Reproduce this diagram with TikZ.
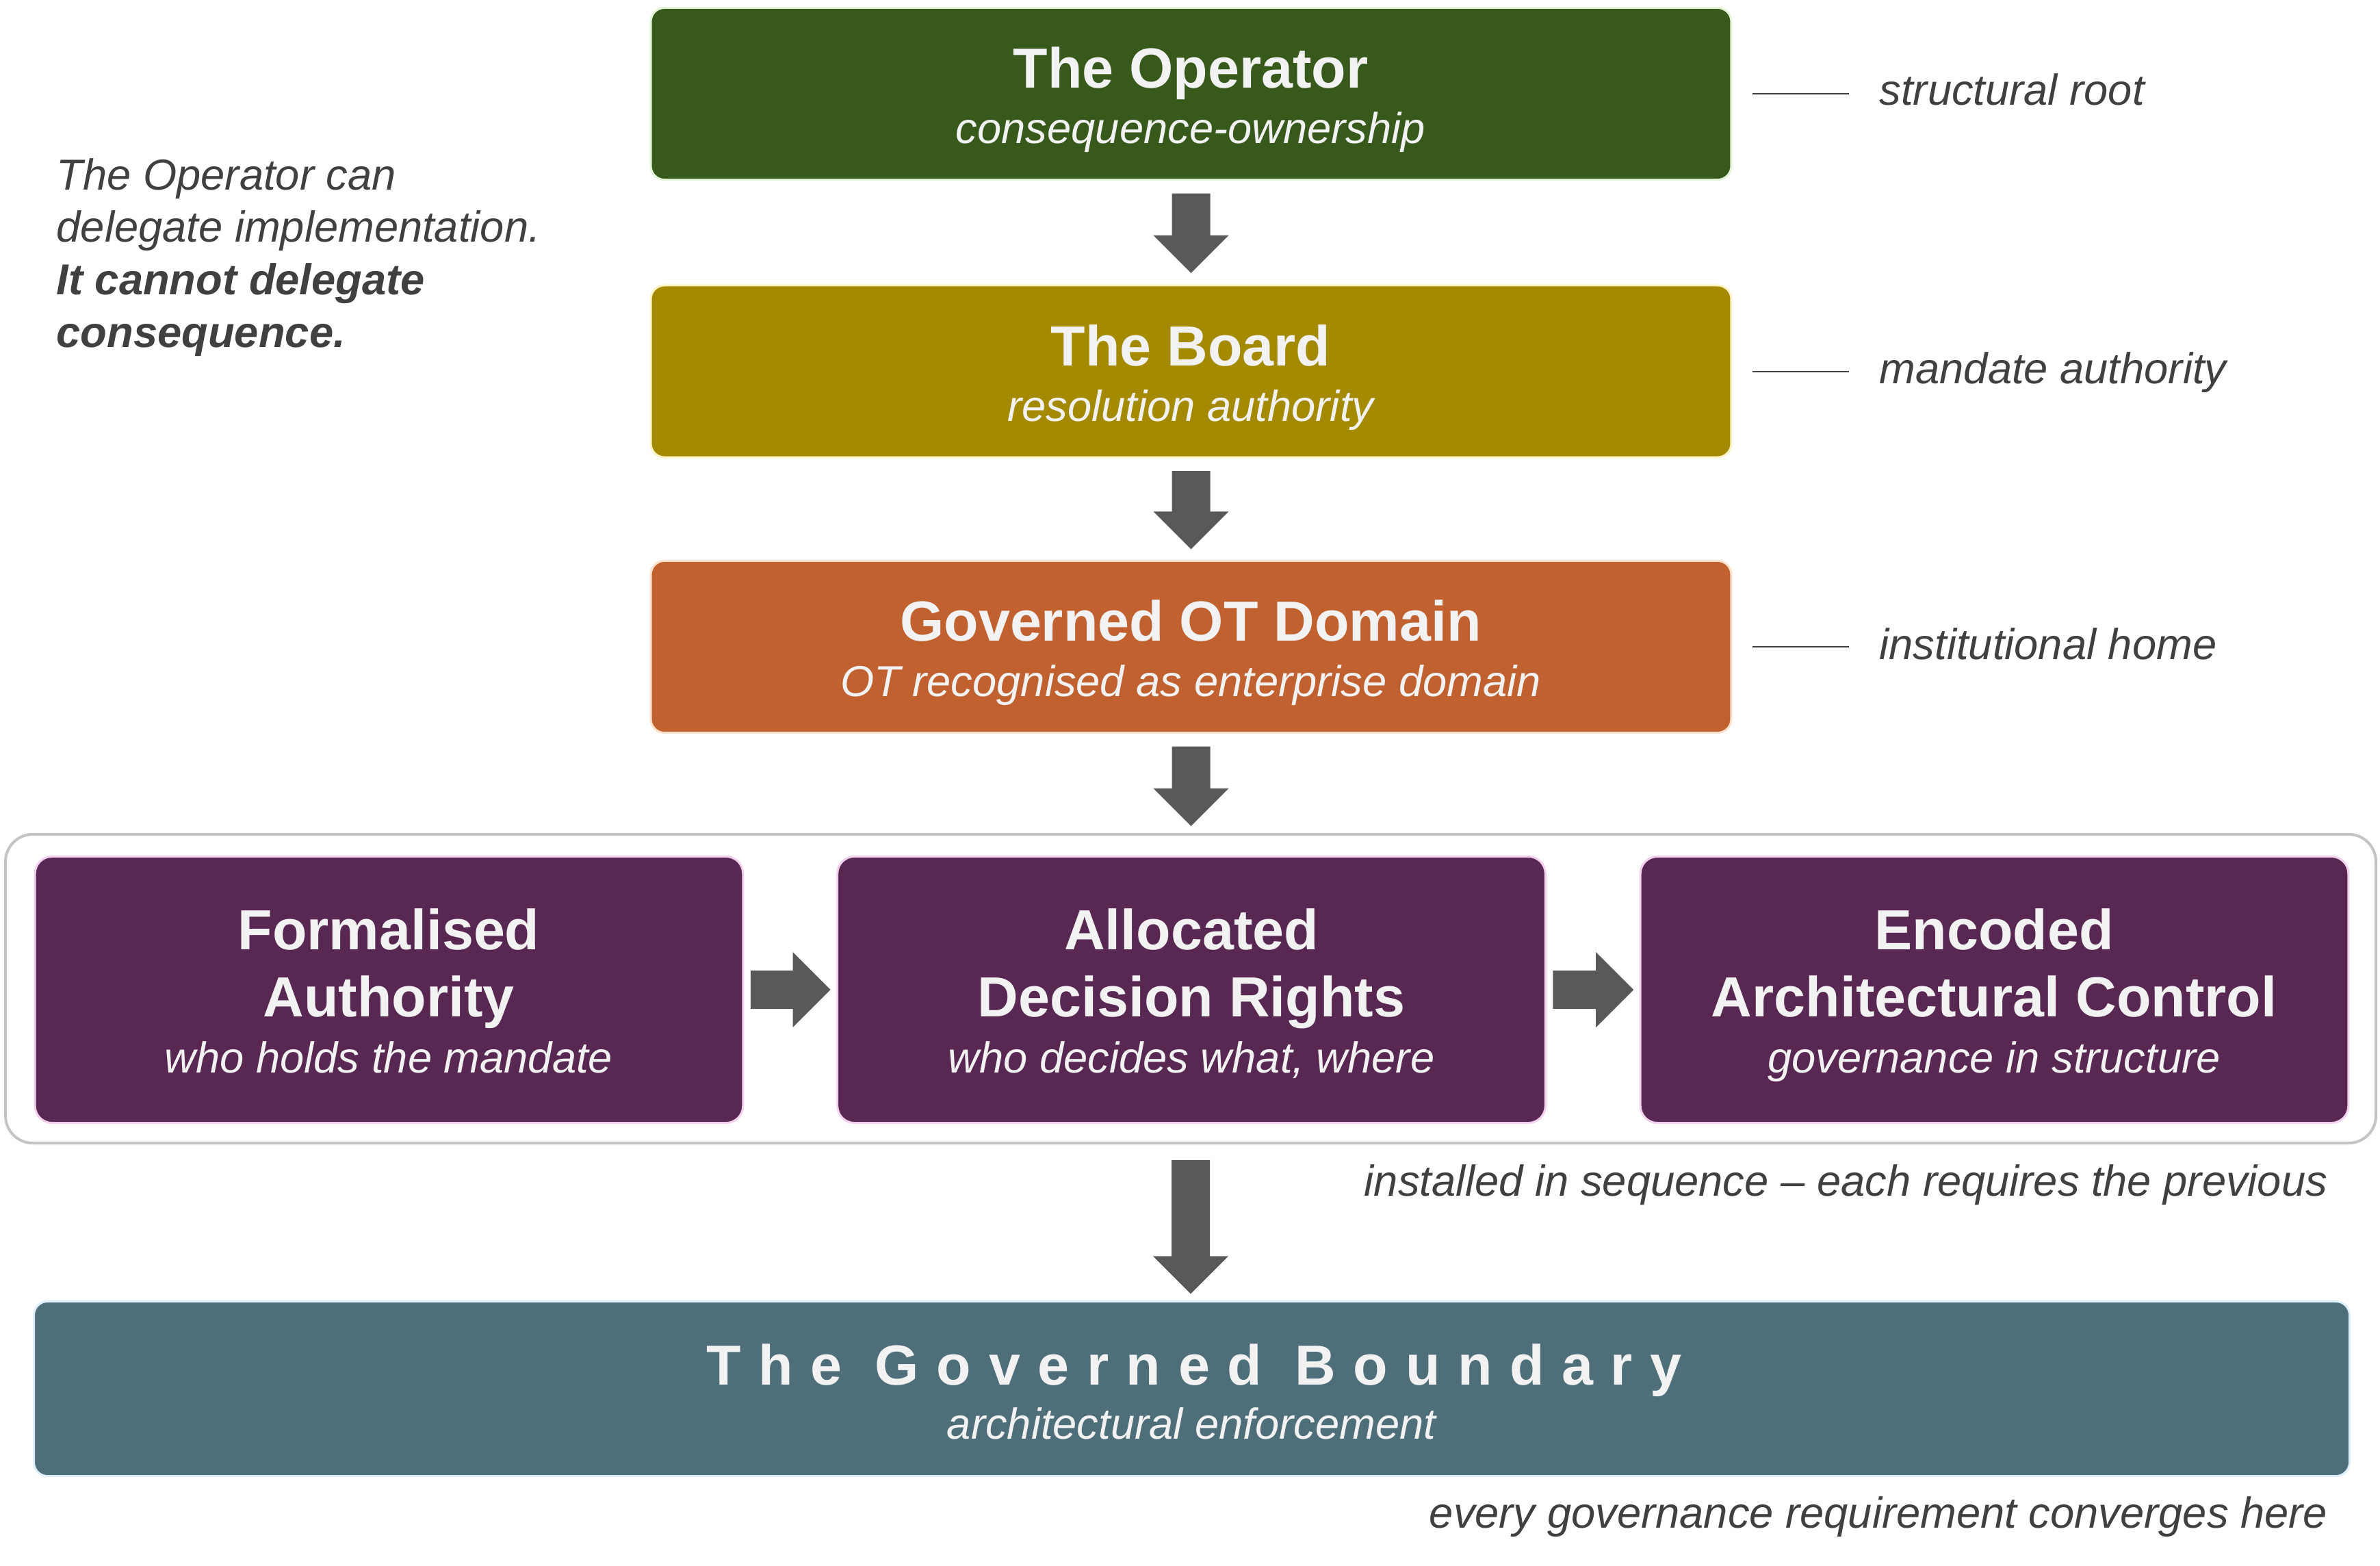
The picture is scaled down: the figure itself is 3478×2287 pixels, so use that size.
\documentclass[tikz,border=0pt]{standalone}
\usepackage{fontspec}
\setmainfont{Liberation Sans}
\newfontfamily\spacedfont[LetterSpace=31]{Liberation Sans}
\usetikzlibrary{calc}
\definecolor{opfill}{HTML}{37591B}
\definecolor{opline}{HTML}{E2F5D6}
\definecolor{bdfill}{HTML}{A38A00}
\definecolor{bdline}{HTML}{FFF3C4}
\definecolor{otfill}{HTML}{C0612F}
\definecolor{otline}{HTML}{FFE0CC}
\definecolor{pufill}{HTML}{582852}
\definecolor{puline}{HTML}{F2D0EE}
\definecolor{gbfill}{HTML}{4E6E79}
\definecolor{gbline}{HTML}{DDEFFF}
\definecolor{arrowgray}{HTML}{595959}
\definecolor{darktext}{HTML}{404040}
\definecolor{lighttext}{HTML}{F2F2F2}
\definecolor{contline}{HTML}{C4C4C4}
\newcommand\BlockDown[2]{\fill[arrowgray] let \p1=#1, \p2=#2 in
  (\x1-0.28cm,\y1) -- (\x1+0.28cm,\y1) -- (\x1+0.28cm,\y2+0.55cm) -- (\x1+0.55cm,\y2+0.55cm)
  -- (\x1,\y2) -- (\x1-0.55cm,\y2+0.55cm) -- (\x1-0.28cm,\y2+0.55cm) -- cycle;}
\newcommand\BlockRight[2]{\fill[arrowgray] let \p1=#1, \p2=#2 in
  (\x1,\y1+0.28cm) -- (\x2-0.55cm,\y1+0.28cm) -- (\x2-0.55cm,\y1+0.55cm) -- (\x2,\y1)
  -- (\x2-0.55cm,\y1-0.55cm) -- (\x2-0.55cm,\y1-0.28cm) -- (\x1,\y1-0.28cm) -- cycle;}
\begin{document}
\begin{tikzpicture}[x=0.01cm,y=-0.01cm,
  box/.style={rectangle, rounded corners=0.2cm, line width=0.03cm, outer sep=0pt, inner sep=0pt},
  wide/.style={box, minimum width=15.78cm, minimum height=2.51cm},
  pubox/.style={box, rounded corners=0.25cm, fill=pufill, draw=puline, minimum width=10.34cm, minimum height=3.89cm},
  title/.style={anchor=base, inner sep=0pt, text=lighttext, font=\fontsize{23.5}{28}\selectfont\bfseries},
  sub/.style={anchor=base, inner sep=0pt, text=lighttext, font=\fontsize{18}{22}\selectfont\itshape},
  side/.style={anchor=base west, inner sep=0pt, text=darktext, font=\fontsize{18}{22}\selectfont\itshape},
  note/.style={anchor=base east, inner sep=0pt, text=darktext, font=\fontsize{18}{22}\selectfont\itshape},
  leader/.style={draw=darktext, line width=0.02cm}
]
\useasboundingbox (0,0) rectangle (3478,2287);

% main boxes
\node[wide, fill=opfill, draw=opline] (op) at (1740.5,137) {};
\node[wide, fill=bdfill, draw=bdline] (board) at (1740.5,542.5) {};
\node[wide, fill=otfill, draw=otline] (ot) at (1740.5,945) {};
\node[box, rounded corners=0.4cm, draw=contline, line width=0.04cm, minimum width=34.62cm, minimum height=4.51cm] (cont) at (1740,1444.5) {};
\node[pubox] (fa) at (568.5,1446) {};
\node[pubox] (dr) at (1741,1446) {};
\node[pubox] (ac) at (2914.5,1446) {};
\node[box, fill=gbfill, draw=gbline, minimum width=33.82cm, minimum height=2.55cm] (gb) at (1741.5,2029) {};

% texts in boxes
\node[title] (opt) at (1740,128) {The Operator};
\node[sub] (ops) at (1740,209) {consequence-ownership};
\node[title] (bdt) at (1740,534) {The Board};
\node[sub] (bds) at (1740,615) {resolution authority};
\node[title] (ott) at (1740,936) {Governed OT Domain};
\node[sub] (ots) at (1740,1017) {OT recognised as enterprise domain};

\node[title] (fat1) at (568,1387) {Formalised};
\node[title] (fat2) at (568,1485) {Authority};
\node[sub] (fas) at (568,1567) {who holds the mandate};
\node[title] (drt1) at (1741,1387) {Allocated};
\node[title] (drt2) at (1741,1485) {Decision Rights};
\node[sub] (drs) at (1741,1567) {who decides what, where};
\node[title] (act1) at (2914,1387) {Encoded};
\node[title] (act2) at (2914,1485) {Architectural Control};
\node[sub] (acs) at (2914,1567) {governance in structure};

\node[title, font=\fontsize{23.5}{28}\selectfont\spacedfont\bfseries] (gbt) at (1745,2023) {The Governed Boundary};
\node[sub] (gbs) at (1741,2102) {architectural enforcement};

% block arrows
\BlockDown{($(op.south)+(0,20)$)}{($(board.north)+(0,-18)$)}
\BlockDown{($(board.south)+(0,20)$)}{($(ot.north)+(0,-17)$)}
\BlockDown{($(ot.south)+(0,20)$)}{($(cont.north)+(0,-12)$)}
\BlockDown{($(cont.south)+(0,25)$)}{($(gb.north)+(0,-11)$)}
\BlockRight{($(fa.east)+(11,0)$)}{($(dr.west)+(-10,0)$)}
\BlockRight{($(dr.east)+(11,0)$)}{($(ac.west)+(-10,0)$)}

% side labels
\coordinate (l1e) at (2702,137);
\coordinate (l2e) at (2702,542.5);
\coordinate (l3e) at (2702,945);
\draw[leader, shorten <=0.31cm] (op.east) -- (l1e);
\draw[leader, shorten <=0.31cm] (board.east) -- (l2e);
\draw[leader, shorten <=0.31cm] (ot.east) -- (l3e);
\node[side] (lab1) at (2746,153) {structural root};
\node[side] (lab2) at (2746,560) {mandate authority};
\node[side] (lab3) at (2746,963) {institutional home};

% left note
\node[side] (n1) at (82,277) {The Operator can};
\node[side] (n2) at (82,353) {delegate implementation.};
\node[side, font=\fontsize{18}{22}\selectfont\itshape\bfseries] (n3) at (82,430) {It cannot delegate};
\node[side, font=\fontsize{18}{22}\selectfont\itshape\bfseries] (n4) at (82,507) {consequence.};

% captions
\node[note] (cap1) at (3402,1747) {installed in sequence – each requires the previous};
\node[note] (cap2) at (3402,2232) {every governance requirement converges here};
\end{tikzpicture}
\end{document}
